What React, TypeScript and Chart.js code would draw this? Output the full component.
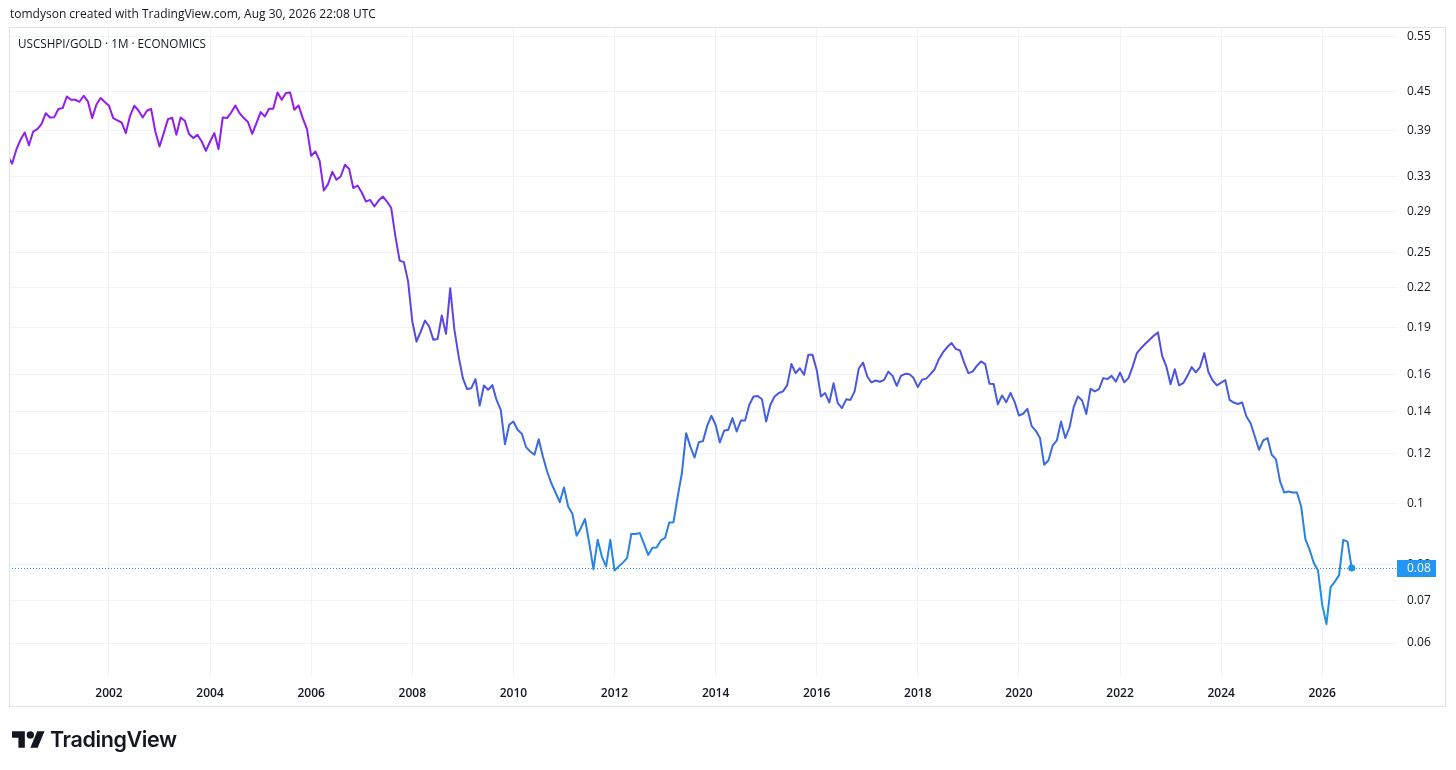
import React, { useEffect, useRef } from "react";
import { Chart, registerables } from "chart.js";

Chart.register(...registerables);

// Monthly USCSHPI/GOLD ratio, starting January 2000
const START_YEAR = 2000;

const ratio2000_2004 = [
  0.355, 0.346, 0.364, 0.3775, 0.3877, 0.37, 0.389, 0.3925, 0.4, 0.416, 0.4095, 0.41,
  0.4223, 0.4238, 0.4422, 0.4369, 0.4369, 0.4337, 0.4433, 0.4342, 0.4086, 0.429, 0.4396, 0.4332,
  0.4274, 0.4086, 0.4051, 0.4021, 0.3868, 0.412, 0.4274, 0.4201, 0.4095, 0.4197, 0.4227, 0.389,
  0.3683, 0.3868, 0.4071, 0.409, 0.3844, 0.4095, 0.4046, 0.3854, 0.3798, 0.3844, 0.3751, 0.3626,
  0.3751, 0.3868, 0.3648, 0.4095, 0.4086, 0.417, 0.4279, 0.416, 0.4086, 0.4027, 0.3858, 0.4012,
];
const ratio2005_2009 = [
  0.4177, 0.411, 0.4227, 0.4227, 0.4487, 0.4369, 0.4477, 0.4487, 0.4212, 0.4279, 0.4086, 0.3925,
  0.356, 0.3617, 0.3496, 0.3136, 0.321, 0.3358, 0.3261, 0.3301, 0.3445, 0.3395, 0.3164, 0.3194,
  0.3113, 0.3012, 0.303, 0.2958, 0.3023, 0.3068, 0.3012, 0.2941, 0.265, 0.2427, 0.2414, 0.225,
  0.1943, 0.1806, 0.1873, 0.195, 0.1908, 0.1817, 0.1822, 0.1986, 0.1857, 0.2195, 0.1885, 0.171,
  0.158, 0.1518, 0.1523, 0.1574, 0.1429, 0.1538, 0.1514, 0.154, 0.1459, 0.1407, 0.1241, 0.1332,
];
const ratio2010_2014 = [
  0.1348, 0.1308, 0.1289, 0.1228, 0.1208, 0.1194, 0.1264, 0.1186, 0.1123, 0.1076, 0.104, 0.1004,
  0.1059, 0.0988, 0.0962, 0.0888, 0.0913, 0.0944, 0.0865, 0.0786, 0.0875, 0.0823, 0.0794, 0.0875,
  0.0782, 0.0794, 0.0805, 0.0819, 0.0894, 0.0894, 0.0897, 0.0862, 0.0828, 0.085, 0.0851, 0.0873,
  0.0881, 0.0932, 0.0933, 0.1025, 0.1117, 0.1292, 0.123, 0.1182, 0.125, 0.1255, 0.1327, 0.1377,
  0.1332, 0.1249, 0.1303, 0.1308, 0.1365, 0.13, 0.1353, 0.1353, 0.1433, 0.1477, 0.148, 0.1462,
];
const ratio2015_2019 = [
  0.1348, 0.1433, 0.1477, 0.1496, 0.1505, 0.154, 0.1663, 0.1609, 0.1638, 0.1599, 0.172, 0.172,
  0.1628, 0.1477, 0.1496, 0.1445, 0.1551, 0.1442, 0.1416, 0.1462, 0.1459, 0.1505, 0.1638, 0.1672,
  0.1589, 0.1555, 0.1566, 0.1559, 0.157, 0.1618, 0.1593, 0.1536, 0.1593, 0.1605, 0.1603, 0.158,
  0.1529, 0.157, 0.1577, 0.1603, 0.1632, 0.1693, 0.1737, 0.177, 0.1796, 0.1758, 0.1748, 0.1672,
  0.1609, 0.1618, 0.1652, 0.1679, 0.1663, 0.1547, 0.1546, 0.1435, 0.1483, 0.1447, 0.1497, 0.1447,
];
const ratio2020_2024 = [
  0.1378, 0.1387, 0.1412, 0.1327, 0.1303, 0.1269, 0.1151, 0.1169, 0.1234, 0.1258, 0.1348, 0.1269,
  0.1319, 0.1421, 0.1478, 0.1456, 0.1386, 0.1519, 0.1505, 0.1517, 0.158, 0.1574, 0.1593, 0.156,
  0.1612, 0.1556, 0.158, 0.1648, 0.1731, 0.1763, 0.1791, 0.1817, 0.1844, 0.1867, 0.1714, 0.1648,
  0.1545, 0.1632, 0.1539, 0.1551, 0.1593, 0.1645, 0.1614, 0.1645, 0.1731, 0.1614, 0.1566, 0.1539,
  0.1554, 0.1568, 0.1459, 0.1445, 0.1437, 0.1445, 0.1373, 0.134, 0.1276, 0.1216, 0.1258, 0.1269,
];
const ratio2025_2026 = [
  0.1194, 0.1175, 0.1082, 0.104, 0.1044, 0.104, 0.104, 0.0988, 0.0877, 0.0844, 0.0804, 0.0782,
  0.069, 0.0643, 0.0736, 0.0751, 0.0769, 0.0875, 0.0869, 0.0789,
];

const ratio = [
  ...ratio2000_2004,
  ...ratio2005_2009,
  ...ratio2010_2014,
  ...ratio2015_2019,
  ...ratio2020_2024,
  ...ratio2025_2026,
];

const yTickValues = [0.06, 0.07, 0.08, 0.1, 0.12, 0.14, 0.16, 0.19, 0.22, 0.25, 0.29, 0.33, 0.39, 0.45, 0.55];
const xTickYears = [2002, 2004, 2006, 2008, 2010, 2012, 2014, 2016, 2018, 2020, 2022, 2024, 2026];

const HEADER_TEXT = "tomdyson created with TradingView.com, Aug 30, 2026 22:08 UTC";
const LEGEND_TEXT = "USCSHPI/GOLD · 1M · ECONOMICS";

const FONT = "'Open Sans', 'Noto Sans', sans-serif";
const TEXT_COLOR = "#131722";
const GRID_COLOR = "#f0f3fa";
const FRAME_COLOR = "#e0e3eb";
const PRICE_BLUE = "#2196f3";

export default function App() {
  const canvasRef = useRef<HTMLCanvasElement | null>(null);

  useEffect(() => {
    const canvas = canvasRef.current;
    if (!canvas) return;

    const points = ratio.map((v, i) => ({ x: START_YEAR + i / 12, y: v }));
    const maxV = Math.max(...ratio);
    const minV = Math.min(...ratio);
    const lastV = ratio[ratio.length - 1];

    const overlay = {
      id: "tvOverlay",
      beforeDatasetsDraw(chart: any) {
        const { ctx, chartArea } = chart;
        const y = chart.scales.y.getPixelForValue(lastV);
        ctx.save();
        ctx.strokeStyle = PRICE_BLUE;
        ctx.lineWidth = 1;
        ctx.setLineDash([1, 2]);
        ctx.beginPath();
        ctx.moveTo(chartArea.left, Math.round(y) + 0.5);
        ctx.lineTo(chartArea.right, Math.round(y) + 0.5);
        ctx.stroke();
        ctx.restore();
      },
      afterDraw(chart: any) {
        const { ctx, chartArea } = chart;
        const y = chart.scales.y.getPixelForValue(lastV);
        ctx.save();
        // frame
        ctx.strokeStyle = FRAME_COLOR;
        ctx.lineWidth = 1;
        ctx.strokeRect(9.5, 27.5, 1436, 679);
        // current value label
        const bx = chartArea.right;
        const bh = 17;
        ctx.fillStyle = PRICE_BLUE;
        ctx.fillRect(bx, Math.round(y) - 8, 39, bh);
        ctx.fillStyle = "#ffffff";
        ctx.font = `12px ${FONT}`;
        ctx.textBaseline = "middle";
        ctx.textAlign = "left";
        ctx.fillText(lastV.toFixed(2), bx + 10, Math.round(y) + 0.5);
        ctx.restore();
      },
    };

    const chart = new Chart(canvas, {
      type: "line",
      data: {
        datasets: [
          {
            data: points,
            borderWidth: 2,
            tension: 0,
            borderJoinStyle: "round",
            borderColor: (c: any) => {
              const ch = c.chart;
              if (!ch.chartArea) return "#6a3be6";
              const ys = ch.scales.y;
              const y0 = ys.getPixelForValue(maxV);
              const y1 = ys.getPixelForValue(minV);
              const g = ch.ctx.createLinearGradient(0, y0, 0, y1);
              g.addColorStop(0, "#9a17f0");
              g.addColorStop(0.25, "#7432e8");
              g.addColorStop(0.5, "#4f50e0");
              g.addColorStop(0.75, "#2f78e2");
              g.addColorStop(1, "#1a94e6");
              return g;
            },
            pointRadius: (c: any) => (c.dataIndex === ratio.length - 1 ? 3.5 : 0),
            pointBackgroundColor: "#1e90e6",
            pointBorderWidth: 0,
            pointHoverRadius: 0,
          },
        ],
      },
      options: {
        animation: false,
        responsive: false,
        devicePixelRatio: 1,
        layout: { padding: { left: 9, top: 27, right: 10, bottom: 63 } },
        plugins: { legend: { display: false }, tooltip: { enabled: false } },
        events: [],
        scales: {
          x: {
            type: "linear",
            min: 2000.022,
            max: 2027.479,
            border: { display: false },
            grid: { color: GRID_COLOR, drawTicks: false },
            afterBuildTicks: (scale: any) => {
              scale.ticks = xTickYears.map((v) => ({ value: v }));
            },
            afterFit: (scale: any) => {
              scale.height = 30;
            },
            ticks: {
              padding: 9,
              color: TEXT_COLOR,
              font: { family: FONT, size: 12, weight: 600 },
              maxRotation: 0,
              autoSkip: false,
              callback: (v: any) => String(v),
            },
          },
          y: {
            type: "logarithmic",
            position: "right",
            min: 0.053,
            max: 0.57,
            border: { display: false },
            grid: { color: GRID_COLOR, drawTicks: false },
            afterBuildTicks: (scale: any) => {
              scale.ticks = yTickValues.map((v) => ({ value: v }));
            },
            afterFit: (scale: any) => {
              scale.width = 49;
            },
            ticks: {
              padding: 10,
              color: TEXT_COLOR,
              font: { family: FONT, size: 12 },
              autoSkip: false,
              callback: (v: any) => String(Number(v)),
            },
          },
        },
      },
      plugins: [overlay],
    });

    return () => chart.destroy();
  }, []);

  return (
    <div
      style={{
        position: "fixed",
        left: 0,
        top: 0,
        width: 1456,
        height: 770,
        background: "#ffffff",
        overflow: "hidden",
        fontFamily: FONT,
        color: TEXT_COLOR,
      }}
    >
      <canvas
        ref={canvasRef}
        width={1456}
        height={770}
        style={{ position: "absolute", left: 0, top: 0, width: 1456, height: 770 }}
      />
      <div style={{ position: "absolute", left: 10, top: 6, fontSize: 12, lineHeight: "16px", whiteSpace: "nowrap" }}>
        {HEADER_TEXT}
      </div>
      <div style={{ position: "absolute", left: 18, top: 35, fontSize: 11.7, lineHeight: "16px", whiteSpace: "nowrap" }}>
        {LEGEND_TEXT}
      </div>
      <div style={{ position: "absolute", left: 12, top: 728, display: "flex", alignItems: "center" }}>
        <svg width="33" height="17" viewBox="0 4 36 18" style={{ display: "block" }}>
          <path d="M14 22H7V11H0V4h14v18zM28 22h-8l7.5-18h8L28 22z" fill="#131722" />
          <circle cx="20" cy="8" r="4" fill="#131722" />
        </svg>
        <span
          style={{
            marginLeft: 5,
            fontFamily: "Inter, 'Open Sans', sans-serif",
            fontWeight: 600,
            fontSize: 21.5,
            letterSpacing: -0.4,
            lineHeight: "22px",
          }}
        >
          TradingView
        </span>
      </div>
    </div>
  );
}
